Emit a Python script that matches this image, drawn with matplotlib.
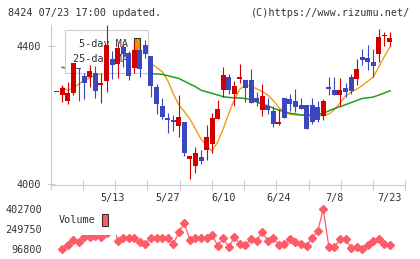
import numpy as np
import matplotlib
matplotlib.use('Agg')
import matplotlib.pyplot as plt
from matplotlib.patches import Patch

# ---------------- data ----------------
date_labels = ['5/13', '5/27', '6/10', '6/24', '7/8', '7/23']
date_index = [10, 20, 30, 40, 50, 60]

opens = [4267, 4258, 4241, 4265, 4336, 4313, 4311, 4321, 4288, 4299,
         4362, 4347, 4397, 4380, 4337, 4389, 4403, 4371, 4281, 4226,
         4192, 4186, 4169, 4179, 4073, 4053, 4078, 4099, 4117, 4189,
         4272, 4310, 4261, 4305, 4301, 4301, 4249, 4214, 4225, 4212,
         4174, 4249, 4246, 4241, 4229, 4229, 4229, 4223, 4198, 4281,
         4272, 4258, 4278, 4310, 4304, 4368, 4365, 4354, 4376, 4429,
         4411]
highs = [4268, 4287, 4295, 4352, 4337, 4321, 4345, 4342, 4321, 4460,
         4386, 4410, 4413, 4386, 4406, 4392, 4417, 4372, 4290, 4248,
         4205, 4200, 4257, 4180, 4082, 4107, 4098, 4171, 4205, 4243,
         4339, 4319, 4299, 4348, 4302, 4334, 4268, 4290, 4249, 4225,
         4218, 4250, 4261, 4275, 4249, 4230, 4249, 4241, 4246, 4310,
         4310, 4307, 4293, 4319, 4362, 4391, 4403, 4391, 4449, 4442,
         4442]
lows = [4266, 4237, 4232, 4258, 4241, 4246, 4280, 4248, 4236, 4267,
        4304, 4306, 4340, 4301, 4323, 4309, 4364, 4253, 4203, 4188,
        4149, 4155, 4137, 4081, 4015, 4033, 4059, 4070, 4091, 4189,
        4252, 4261, 4226, 4294, 4237, 4236, 4226, 4198, 4204, 4166,
        4171, 4191, 4212, 4208, 4217, 4159, 4173, 4181, 4186, 4258,
        4257, 4226, 4252, 4261, 4287, 4345, 4330, 4311, 4353, 4401,
        4401]
closes = [4268, 4279, 4265, 4351, 4332, 4294, 4329, 4271, 4294, 4403,
          4346, 4395, 4378, 4314, 4389, 4333, 4376, 4285, 4233, 4193,
          4185, 4181, 4193, 4091, 4081, 4091, 4067, 4136, 4191, 4217,
          4316, 4272, 4284, 4310, 4278, 4236, 4239, 4255, 4215, 4174,
          4180, 4192, 4233, 4224, 4218, 4160, 4181, 4186, 4241, 4276,
          4258, 4272, 4267, 4270, 4333, 4360, 4353, 4343, 4426, 4432,
          4423]

ma5 = [np.nan, 4282, 4272, 4278, 4290, 4300, 4308, 4315, 4320, 4330,
       4345, 4350, 4360, 4365, 4370, 4370, 4365, 4350, 4338, 4326,
       4300, 4262, 4230, 4210, 4188, 4160, 4130, 4112, 4095, 4122,
       4160, 4205, 4245, 4275, 4287, 4284, 4276, 4268, 4258, 4242,
       4222, 4208, 4202, 4200, 4200, 4198, 4197, 4198, 4198, 4203,
       4215, 4235, 4255, 4266, 4275, 4285, 4298, 4310, 4340, 4370,
       4398]
ma25 = [np.nan, 4338, 4336, 4334, 4333, 4332, 4331, 4330, 4329, 4328,
        4327, 4326, 4325, 4324, 4323, 4322, 4321, 4320, 4319, 4318,
        4314, 4310, 4306, 4298, 4290, 4282, 4272, 4267, 4263, 4258,
        4253, 4251, 4250, 4249, 4248, 4244, 4238, 4231, 4227, 4220,
        4214, 4210, 4205, 4203, 4200, 4200, 4200, 4202, 4205, 4212,
        4219, 4224, 4230, 4236, 4242, 4248, 4250, 4252, 4258, 4264,
        4270]

volume = [np.nan, 100000, 127000, 166000, 153000, 190000, 190000, 195000, 185000, 220000,
          350000, 158000, 183000, 183000, 183000, 153000, 133000, 183000, 183000, 179000,
          183000, 133000, 224000, 298000, 165000, 183000, 179000, 183000, 204000, 122000,
          179000, 110000, 189000, 133000, 127000, 171000, 158000, 229000, 158000, 183000,
          127000, 133000, 171000, 153000, 133000, 122000, 183000, 234000, 402700, 114000,
          114000, 171000, 171000, 107000, 110000, 96800, 127000, 160000, 173000, 133000,
          127000]

price_ticks = [4000, 4400]

# ---------------- style ----------------
RED = '#D40000'
BLUE = '#3C46BE'
ORANGE = '#F39200'
GREEN = '#1E9E1E'
VOLC = '#FF5B66'
GRID = '#CCCCCC'
TXT = '#333333'
FONT = 'DejaVu Sans Mono'
FS = 7.3

W, H = 420, 259
fig = plt.figure(figsize=(W / 100, H / 100), dpi=100)


def fx(px):
    return px / W


def fy(py):
    return 1 - py / H


left_px, right_px = 50.7, 405.3
first_px, step_px = 56.5, 5.558
xlim = ((left_px - first_px) / step_px, (right_px - first_px) / step_px)

# ---------------- price panel ----------------
ax = fig.add_axes([fx(left_px), fy(184.5), fx(right_px) - fx(left_px), fy(25) - fy(184.5)])
ax.set_xlim(*xlim)
ax.set_ylim(3998.5, 4461)

idx = np.arange(len(opens))
o = np.array(opens, float)
c = np.array(closes, float)
hi = np.array(highs, float)
lo = np.array(lows, float)
up = c >= o
cols = np.where(up, RED, BLUE)
body_bottom = np.minimum(o, c)
body_h = np.maximum(np.abs(c - o), 4)

ax.plot(idx, ma5, color=ORANGE, lw=0.9, zorder=2)
ax.plot(idx, ma25, color=GREEN, lw=1.1, zorder=2)
ax.vlines(idx, lo, hi, colors=cols, linewidth=0.8, zorder=3)
ax.bar(idx, body_h, bottom=body_bottom, width=0.9, color=cols, linewidth=0, zorder=3.1)

for s in ['top', 'right']:
    ax.spines[s].set_visible(False)
for s in ['left', 'bottom']:
    ax.spines[s].set_color(GRID)
    ax.spines[s].set_linewidth(0.8)

ax.set_xticks(np.linspace(xlim[0], xlim[1], 12))
ax.set_xticklabels([])
ax.set_xticks(date_index, minor=True)
ax.set_xticklabels(date_labels, minor=True)
ax.tick_params(axis='x', which='major', direction='inout', length=7, width=0.8, color=GRID)
ax.tick_params(axis='x', which='minor', length=0, pad=6, labelsize=FS, labelcolor=TXT)
ax.set_yticks(price_ticks)
ax.set_yticklabels([str(t) for t in price_ticks])
ax.tick_params(axis='y', direction='inout', length=6, width=0.8, color=GRID,
               pad=4, labelsize=FS, labelcolor=TXT)
for lab in ax.get_xticklabels(minor=True) + ax.get_yticklabels():
    lab.set_family(FONT)

leg = ax.legend(handles=[Patch(facecolor=ORANGE, edgecolor=TXT, linewidth=0.8),
                         Patch(facecolor=GREEN, edgecolor=TXT, linewidth=0.8)],
                labels=['5-day MA', '25-day MA'], loc='upper left',
                bbox_to_anchor=(fx(65), fy(30)), bbox_transform=fig.transFigure,
                markerfirst=False, frameon=True, fancybox=False, edgecolor=GRID,
                framealpha=1, borderpad=0.75, handlelength=0.6, handleheight=1.6,
                handletextpad=0.6, labelspacing=0.2, borderaxespad=0,
                labelcolor=TXT, prop=dict(family=FONT, size=FS))
leg.get_frame().set_linewidth(0.8)
leg.set_zorder(2.5)

# ---------------- volume panel ----------------
axv = fig.add_axes([fx(left_px), fy(249), fx(right_px) - fx(left_px), fy(209) - fy(249)])
axv.set_xlim(*xlim)
vmin, vmax = np.nanmin(volume), np.nanmax(volume)
axv.set_ylim(vmin, vmax)
axv.plot(idx, volume, color=VOLC, lw=0.9, marker='D', ms=4, mec=VOLC, mfc=VOLC,
         clip_on=False, zorder=2)
for s in axv.spines.values():
    s.set_visible(False)
axv.set_xticks([])
vt = [vmin, (vmin + vmax) / 2, vmax]
axv.set_yticks(vt)
axv.set_yticklabels([f'{int(round(v))}' for v in vt])
axv.tick_params(axis='y', length=0, pad=6, labelsize=FS, labelcolor=TXT)
for lab in axv.get_yticklabels():
    lab.set_family(FONT)

legv = axv.legend(handles=[Patch(facecolor=VOLC, edgecolor=TXT, linewidth=0.8)],
                  labels=['Volume'], loc='upper left',
                  bbox_to_anchor=(fx(50), fy(205)), bbox_transform=fig.transFigure,
                  markerfirst=False, frameon=True, fancybox=False, edgecolor='none',
                  facecolor='white', framealpha=1, borderpad=0.88, handlelength=0.6,
                  handleheight=1.5, handletextpad=0.6, borderaxespad=0,
                  labelcolor=TXT, prop=dict(family=FONT, size=FS))
legv.set_zorder(5)

# ---------------- header ----------------
fig.text(fx(8), fy(12.7), '8424 07/23 17:00 updated.', ha='left', va='center',
         family=FONT, size=FS, color=TXT)
fig.text(fx(410), fy(12.7), '(C)https://www.rizumu.net/', ha='right', va='center',
         family=FONT, size=FS, color=TXT)

fig.savefig('out.png', dpi=100)
